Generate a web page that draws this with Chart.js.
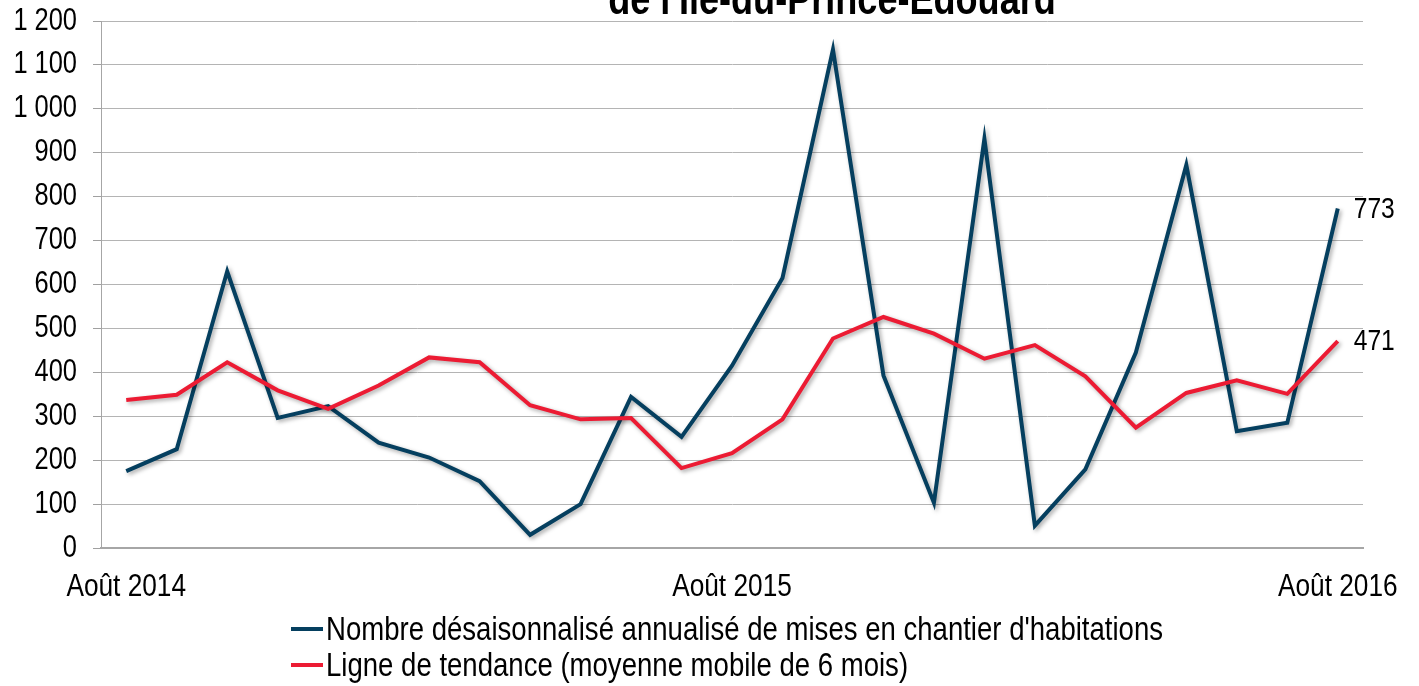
<!DOCTYPE html>
<html lang="fr">
<head>
<meta charset="utf-8">
<script src="https://cdn.jsdelivr.net/npm/chart.js@4.4.1/dist/chart.umd.min.js"></script>
<style>
  html, body { margin: 0; padding: 0; background: #fff; }
  #wrap { position: relative; width: 1419px; height: 686px; overflow: hidden; }
  #title { position: absolute; top: -23px; left: 0; width: 1664px; text-align: center;
    font-family: 'Liberation Sans', Arial, sans-serif; font-weight: bold; font-size: 44px;
    line-height: 44px; color: #000; white-space: nowrap;
    transform: scaleX(0.82); transform-origin: 832px 0; }
  #legend { position: absolute; left: 291px; top: 611px;
    font-family: 'Liberation Sans', Arial, sans-serif;
    font-size: 33px; color: #000; }
  .row { display: flex; align-items: center; height: 36px; white-space: nowrap; }
  .sw { display: inline-block; width: 32px; height: 4px; margin-right: 3px; flex: none; }
  .tx { display: inline-block; transform: scaleX(0.835); transform-origin: left center; }
</style>
</head>
<body>
<div id="wrap">
  <canvas id="c" width="1419" height="686"></canvas>
  <div id="title"></div>
  <div id="legend"></div>
</div>
<script>
const titleText = "de l'Île-du-Prince-Édouard";
const categories = [
  "Août 2014","Septembre 2014","Octobre 2014","Novembre 2014","Décembre 2014",
  "Janvier 2015","Février 2015","Mars 2015","Avril 2015","Mai 2015","Juin 2015","Juillet 2015",
  "Août 2015","Septembre 2015","Octobre 2015","Novembre 2015","Décembre 2015",
  "Janvier 2016","Février 2016","Mars 2016","Avril 2016","Mai 2016","Juin 2016","Juillet 2016",
  "Août 2016"
];
const shownTickLabels = ["Août 2014", "Août 2015", "Août 2016"];
const seriesNames = [
  "Nombre désaisonnalisé annualisé de mises en chantier d'habitations",
  "Ligne de tendance (moyenne mobile de 6 mois)"
];
const startsValues = [175, 225, 630, 296, 323, 240, 206, 152, 30, 100, 344, 253, 415, 615, 1135, 393, 103, 932, 51, 179, 445, 872, 266, 285, 773];
const trendValues  = [337, 349, 423, 359, 317, 370, 434, 423, 325, 293, 296, 182, 216, 293, 477, 526, 488, 431, 462, 391, 274, 353, 382, 351, 471];
const yTicks = { min: 0, max: 1200, step: 100 };

const BLUE = '#053F5F';
const RED = '#EC1B33';
const FONT = "'Liberation Sans', Arial, sans-serif";
const NARROW = 0.82; // horizontal compression to mimic the narrow typeface of the reference

const canvas = document.getElementById('c');
const c2d = canvas.getContext('2d');
const origFill = c2d.fillText.bind(c2d);
c2d.fillText = function(t, x, y, maxW) {
  if (t === '' || t === undefined || t === null) return;
  const m = this.getTransform();
  const px = m.a * x + m.c * y + m.e, py = m.b * x + m.d * y + m.f;
  if (px > 1340 && py < 60) return; // nothing legitimate is drawn there
  this.save();
  this.translate(x, y);
  this.scale(NARROW, 1);
  if (maxW === undefined) origFill(t, 0, 0);
  else origFill(t, 0, 0, maxW / NARROW);
  this.restore();
};

function fmt(v) {
  if (v >= 1000) return Math.floor(v / 1000) + ' ' + String(v % 1000).padStart(3, '0');
  return String(v);
}

const shadowPlugin = {
  id: 'shadow',
  beforeDatasetDraw(chart) {
    const ctx = chart.ctx;
    ctx.save();
    ctx.shadowColor = 'rgba(0,0,0,0.35)';
    ctx.shadowBlur = 4;
    ctx.shadowOffsetX = 2;
    ctx.shadowOffsetY = 2;
  },
  afterDatasetDraw(chart) { chart.ctx.restore(); }
};

const lastLabelPlugin = {
  id: 'lastLabel',
  afterDatasetsDraw(chart) {
    const ctx = chart.ctx;
    ctx.save();
    ctx.font = '30px ' + FONT;
    ctx.fillStyle = '#000';
    ctx.textAlign = 'left';
    ctx.textBaseline = 'middle';
    chart.data.datasets.forEach((ds, i) => {
      const meta = chart.getDatasetMeta(i);
      const n = ds.data.length - 1;
      const pt = meta.data[n];
      ctx.fillText(fmt(ds.data[n]), pt.x + 16, pt.y + 1);
    });
    ctx.restore();
  }
};

document.getElementById('title').textContent = titleText;

const chart = new Chart(canvas, {
  type: 'line',
  data: {
    labels: categories,
    datasets: [
      { label: seriesNames[0], data: startsValues, borderColor: BLUE, backgroundColor: BLUE,
        borderWidth: 4, pointRadius: 0, tension: 0, order: 1 },
      { label: seriesNames[1], data: trendValues, borderColor: RED, backgroundColor: RED,
        borderWidth: 4, pointRadius: 0, tension: 0, order: 0 }
    ]
  },
  options: {
    responsive: false,
    animation: false,
    layout: { padding: { top: 21, right: 56, left: 0, bottom: 0 } },
    plugins: { legend: { display: false }, title: { display: false }, tooltip: { enabled: false } },
    scales: {
      x: {
        offset: true,
        grid: { display: false, drawTicks: false },
        border: { display: true, color: '#a6a6a6', width: 2 },
        ticks: {
          autoSkip: false, maxRotation: 0, minRotation: 0, padding: 20,
          color: '#000', font: { family: FONT, size: 32 },
          callback: function(v) {
            const l = this.getLabelForValue(v);
            return shownTickLabels.includes(l) ? l : '';
          }
        },
        afterFit(s) { s.height = 138; s.paddingLeft = 0; s.paddingRight = 0; }
      },
      y: {
        min: yTicks.min, max: yTicks.max,
        grid: { color: '#b4b4b4', lineWidth: 1, borderDash: [1, 2], tickLength: 8,
                tickColor: '#a0a0a0', tickBorderDash: [], tickWidth: 1 },
        border: { display: true, color: '#a6a6a6', width: 1 },
        ticks: { stepSize: yTicks.step, padding: 16, color: '#000',
                 font: { family: FONT, size: 31 }, callback: v => fmt(v) },
        afterFit(s) { s.width = 101; s.paddingTop = 0; s.paddingBottom = 0; }
      }
    }
  },
  plugins: [shadowPlugin, lastLabelPlugin]
});

const lg = document.getElementById('legend');
chart.data.datasets.forEach(ds => {
  const row = document.createElement('div');
  row.className = 'row';
  const sw = document.createElement('span');
  sw.className = 'sw';
  sw.style.background = ds.borderColor;
  const t = document.createElement('span');
  t.className = 'tx';
  t.textContent = ds.label;
  row.appendChild(sw);
  row.appendChild(t);
  lg.appendChild(row);
});
</script>
</body>
</html>
